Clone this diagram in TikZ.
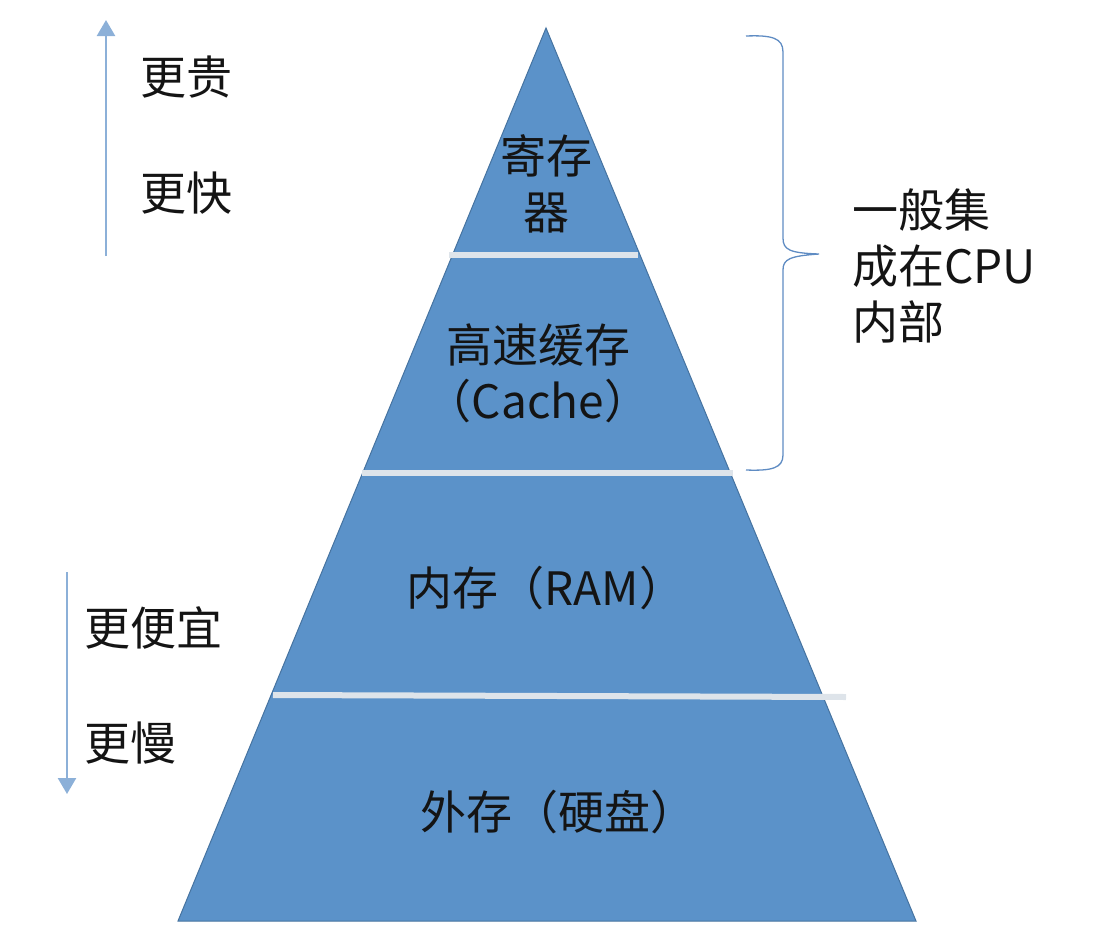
\documentclass[tikz,border=0pt]{standalone}
\usepackage{fontspec}
\setmainfont{Noto Sans CJK SC}
\usetikzlibrary{arrows.meta}
\definecolor{pyr}{RGB}{91,146,201}
\definecolor{pyredge}{RGB}{70,115,160}
\definecolor{sepc}{RGB}{222,228,234}
\definecolor{arrc}{RGB}{140,176,216}
\definecolor{bracec}{RGB}{95,140,195}
\definecolor{txt}{RGB}{20,20,20}
\begin{document}
\begin{tikzpicture}[x=1pt,y=-1pt,
  lbl/.style={font=\fontsize{46}{56}\selectfont, align=center, inner sep=0pt, text=txt},
  sidelbl/.style={font=\fontsize{46}{56}\selectfont, align=left, inner sep=0pt, anchor=west, text=txt},
  sepline/.style={draw=sepc, line width=6pt},
  arrline/.style={draw=arrc, line width=2.5pt, -{Triangle[width=18pt,length=16pt]}},
  bracepath/.style={draw=bracec, line width=1.3pt}]
\useasboundingbox (0,0) rectangle (1112,951);
% pyramid
\coordinate (apex) at (546,28);
\coordinate (bl) at (178,921);
\coordinate (br) at (916,921);
\filldraw[fill=pyr, draw=pyredge, line width=1pt] (apex) -- (br) -- (bl) -- cycle;
% separators
\coordinate (s1l) at (449,255); \coordinate (s1r) at (638,255);
\coordinate (s2l) at (362,473); \coordinate (s2r) at (733,473);
\coordinate (s3l) at (273,695); \coordinate (s3r) at (846,697);
\draw[sepline] (s1l) -- (s1r);
\draw[sepline] (s2l) -- (s2r);
\draw[sepline] (s3l) -- (s3r);
% level labels
\node[lbl] (reg) at (546,184) {寄存\\器};
\node[lbl] (cache) at (538,373) {高速缓存\\（Cache）};
\node[lbl] (ram) at (546,588) {内存（RAM）};
\node[lbl] (disk) at (558,812) {外存（硬盘）};
% brace
\coordinate (bt) at (746,36);
\coordinate (bb) at (746,470);
\coordinate (btip) at (819,254);
\draw[bracepath] (bt) .. controls (772,35) and (783,38) .. (783,52)
  -- (783,238) .. controls (783,250) and (790,253) .. (btip)
  .. controls (790,256) and (783,259) .. (783,270)
  -- (783,455) .. controls (783,468) and (772,471) .. (bb);
\node[sidelbl] (cpu) at (852,266) {一般集\\成在CPU\\内部};
% left arrows
\coordinate (ua) at (106,256);
\coordinate (ub) at (106,20);
\draw[arrline] (ua) -- (ub);
\node[sidelbl] (gui) at (140,77) {更贵};
\node[sidelbl] (kuai) at (140,193) {更快};
\coordinate (da) at (67,572);
\coordinate (db) at (67,794);
\draw[arrline] (da) -- (db);
\node[sidelbl] (pianyi) at (84,628) {更便宜};
\node[sidelbl] (man) at (84,743) {更慢};
\end{tikzpicture}
\end{document}
